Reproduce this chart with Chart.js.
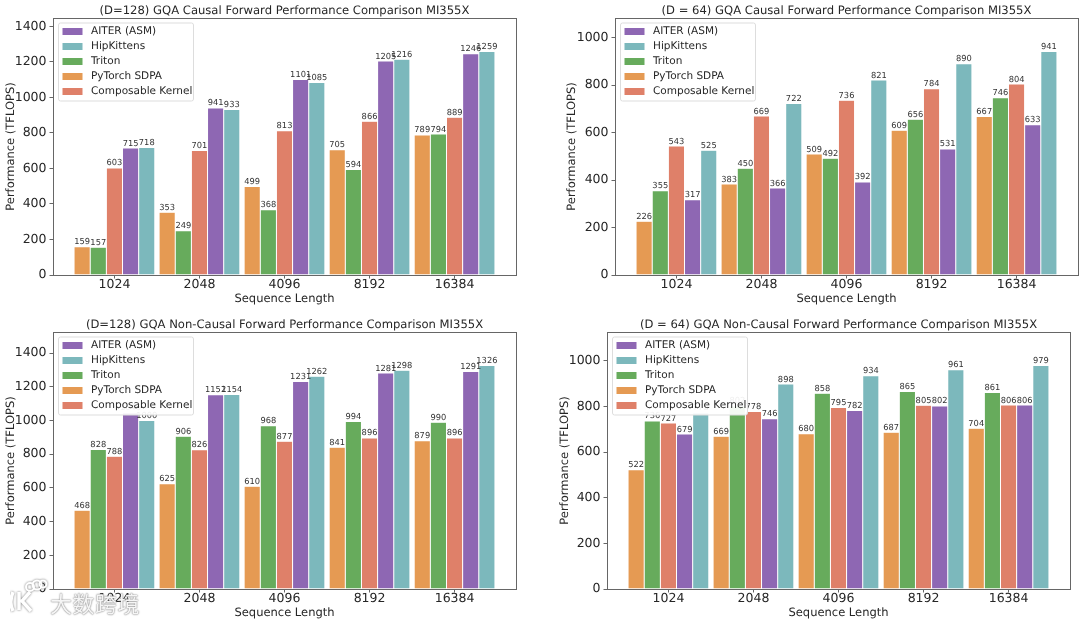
<!DOCTYPE html>
<html>
<head>
<meta charset="utf-8">
<title>GQA Forward Performance Comparison MI355X</title>
<script src="https://cdn.jsdelivr.net/npm/chart.js@4"></script>
<style>
  html, body { margin: 0; padding: 0; background: #fff; }
  #page { position: relative; width: 1080px; height: 621px; overflow: hidden; filter: blur(0.45px); }
  canvas { position: absolute; }
  #mark { position: absolute; left: 10px; top: 586px; height: 30px; }
  #mark span {
    position: absolute; left: 40px; top: 0; white-space: nowrap;
    font: 22px "Noto Sans CJK SC"; letter-spacing: 0.5px; color: rgba(255,255,255,0.92);
    text-shadow: 0 0 2px #888, 0 0 1px #777;
  }
</style>
</head>
<body>
<div id="page">
  <canvas id="c1"></canvas>
  <canvas id="c2"></canvas>
  <canvas id="c3"></canvas>
  <canvas id="c4"></canvas>
  <div id="mark">
    <svg width="42" height="40" style="position:absolute;left:0;top:-10px">
      <g fill="none" stroke="#fff" style="filter:drop-shadow(0 0 1px #777)">
        <path stroke-width="3.5" d="M3 16 C0 23 0 29 3 35 M9 16 V34 M20 16 L12 25 L21 35" />
        <circle cx="20" cy="11" r="4" stroke-width="2" />
        <circle cx="27" cy="9" r="4.5" stroke-width="2" />
        <circle cx="33" cy="8" r="3.5" stroke-width="2" />
      </g>
    </svg>
    <span>大数跨境</span>
  </div>
</div>
<script>
const seqLengths = ['1024', '2048', '4096', '8192', '16384'];

// bar order in each group
const barSeries = ['PyTorch SDPA', 'Triton', 'Composable Kernel', 'AITER (ASM)', 'HipKittens'];
const barColors = ['#e59a53', '#67ab5c', '#df8069', '#8e67b3', '#7cb8bc'];
const legendOrder = ['AITER (ASM)', 'HipKittens', 'Triton', 'PyTorch SDPA', 'Composable Kernel'];

// rows follow barSeries
const causal128 = [
  [159, 353, 499, 705, 789],
  [157, 249, 368, 594, 794],
  [603, 701, 813, 866, 889],
  [715, 941, 1101, 1205, 1246],
  [718, 933, 1085, 1216, 1259]
];
const causal64 = [
  [226, 383, 509, 609, 667],
  [355, 450, 492, 656, 746],
  [543, 669, 736, 784, 804],
  [317, 366, 392, 531, 633],
  [525, 722, 821, 890, 941]
];
const nonCausal128 = [
  [468, 625, 610, 841, 879],
  [828, 906, 968, 994, 990],
  [788, 826, 877, 896, 896],
  [1046, 1152, 1231, 1281, 1291],
  [1000, 1154, 1262, 1298, 1326]
];
const nonCausal64 = [
  [522, 669, 680, 687, 704],
  [736, 802, 858, 865, 861],
  [727, 778, 795, 805, 806],
  [679, 746, 782, 802, 806],
  [772, 898, 934, 961, 979]
];

const FONT = '"DejaVu Sans"';
const TEXT = '#262626';

// smoother glyphs, closer to the matplotlib text
const smoothText = {
  id: 'smoothText',
  beforeDraw(chart) { chart.ctx.textRendering = 'geometricPrecision'; }
};

// value labels over the bars
const barLabels = {
  id: 'barLabels',
  afterDatasetsDraw(chart) {
    const ctx = chart.ctx;
    ctx.save();
    ctx.font = '8.3px ' + FONT;
    ctx.fillStyle = '#333';
    ctx.textAlign = 'center';
    ctx.textBaseline = 'alphabetic';
    chart.data.datasets.forEach((ds, d) => {
      chart.getDatasetMeta(d).data.forEach((bar, i) => {
        ctx.fillText(String(ds.data[i].y), bar.x, bar.y - 2.5);
      });
    });
    ctx.restore();
  }
};

// axes frame and the matplotlib style legend, both sit on top of the bars
const frameAndLegend = {
  id: 'frameAndLegend',
  afterDraw(chart) {
    const ctx = chart.ctx;
    const a = chart.chartArea;
    ctx.save();
    ctx.strokeStyle = '#666';
    ctx.lineWidth = 1;
    ctx.strokeRect(a.left + 0.5, a.top + 0.5, a.right - a.left, a.bottom - a.top);

    const x = a.left + 5.5, y = a.top + 5;
    ctx.fillStyle = 'rgba(255,255,255,0.92)';
    ctx.strokeStyle = '#ddd';
    ctx.beginPath();
    ctx.roundRect(x, y, 135, 78, 2);
    ctx.fill();
    ctx.stroke();

    ctx.font = '10.5px ' + FONT;
    ctx.textBaseline = 'middle';
    ctx.textAlign = 'left';
    legendOrder.forEach((name, i) => {
      const rowY = y + 8.5 + i * 15;
      ctx.fillStyle = barColors[barSeries.indexOf(name)];
      ctx.fillRect(x + 4, rowY - 3.5, 20, 7);
      ctx.fillStyle = TEXT;
      ctx.fillText(name, x + 32.5, rowY);
    });
    ctx.restore();
  }
};

function drawPanel(id, rows, title, box) {
  const canvas = document.getElementById(id);
  canvas.style.left = box.x + 'px';
  canvas.style.top = box.y + 'px';
  canvas.width = box.w;
  canvas.height = box.h;

  const peak = Math.max(...rows.flat());
  new Chart(canvas, {
    type: 'bar',
    data: {
      datasets: barSeries.map((name, s) => ({
        label: name,
        data: rows[s].map((v, i) => ({ x: i, y: v })),
        backgroundColor: barColors[s],
        borderColor: 'rgba(255,255,255,0.45)',
        borderWidth: 0.5,
        barPercentage: 1,
        categoryPercentage: 0.95
      }))
    },
    options: {
      responsive: false,
      animation: false,
      layout: { padding: { top: box.top, right: box.w - box.right, bottom: 0, left: box.titleX } },
      plugins: {
        legend: { display: false },
        tooltip: { enabled: false },
        title: { display: false }
      },
      scales: {
        x: {
          type: 'linear',
          offset: false,
          min: -0.7225,
          max: 4.7225,
          grid: { offset: false, drawOnChartArea: false, drawTicks: true, tickLength: 3.5, color: '#666' },
          border: { display: false },
          afterBuildTicks(axis) { axis.ticks = seqLengths.map((_, i) => ({ value: i })); },
          afterFit(axis) { axis.height = box.h - box.bottom; },
          ticks: {
            autoSkip: false,
            maxRotation: 0,
            padding: -1,
            color: TEXT,
            font: { family: FONT, size: 12.5 },
            callback: value => seqLengths[value]
          },
          title: {
            display: true,
            text: 'Sequence Length',
            color: TEXT,
            font: { family: FONT, size: 11.5 },
            padding: { top: 1, bottom: box.xTitlePad }
          }
        },
        y: {
          min: 0,
          max: peak * 1.15,
          grid: { drawOnChartArea: false, drawTicks: true, tickLength: 3.5, color: '#666' },
          border: { display: false },
          afterFit(axis) { axis.width = box.left - box.titleX; },
          ticks: {
            stepSize: 200,
            includeBounds: false,
            padding: 3,
            color: TEXT,
            font: { family: FONT, size: 12.5 },
            callback: value => String(value)
          },
          title: {
            display: true,
            text: 'Performance (TFLOPS)',
            color: TEXT,
            font: { family: FONT, size: 11.5 },
            padding: 0
          }
        }
      }
    },
    plugins: [smoothText, barLabels, frameAndLegend, {
      id: 'panelTitle',
      afterDraw(chart) {
        const ctx = chart.ctx;
        const a = chart.chartArea;
        ctx.save();
        ctx.font = '11.6px ' + FONT;
        ctx.fillStyle = TEXT;
        ctx.textAlign = 'center';
        ctx.textBaseline = 'alphabetic';
        ctx.fillText(title, (a.left + a.right) / 2, a.top - 4.5);
        ctx.restore();
      }
    }]
  });
}

drawPanel('c1', causal128, '(D=128) GQA Causal Forward Performance Comparison MI355X',
  { x: 0, y: 0, w: 540, h: 310, left: 53, right: 516, top: 18, bottom: 275, titleX: 4, xTitlePad: 4 });
drawPanel('c2', causal64, '(D = 64) GQA Causal Forward Performance Comparison MI355X',
  { x: 540, y: 0, w: 540, h: 310, left: 75, right: 538, top: 18, bottom: 275, titleX: 25, xTitlePad: 4 });
drawPanel('c3', nonCausal128, '(D=128) GQA Non-Causal Forward Performance Comparison MI355X',
  { x: 0, y: 310, w: 540, h: 311, left: 53, right: 516, top: 22, bottom: 279, titleX: 4, xTitlePad: 1 });
drawPanel('c4', nonCausal64, '(D = 64) GQA Non-Causal Forward Performance Comparison MI355X',
  { x: 540, y: 310, w: 540, h: 311, left: 67, right: 530, top: 22, bottom: 279, titleX: 18, xTitlePad: 1 });
</script>
</body>
</html>
